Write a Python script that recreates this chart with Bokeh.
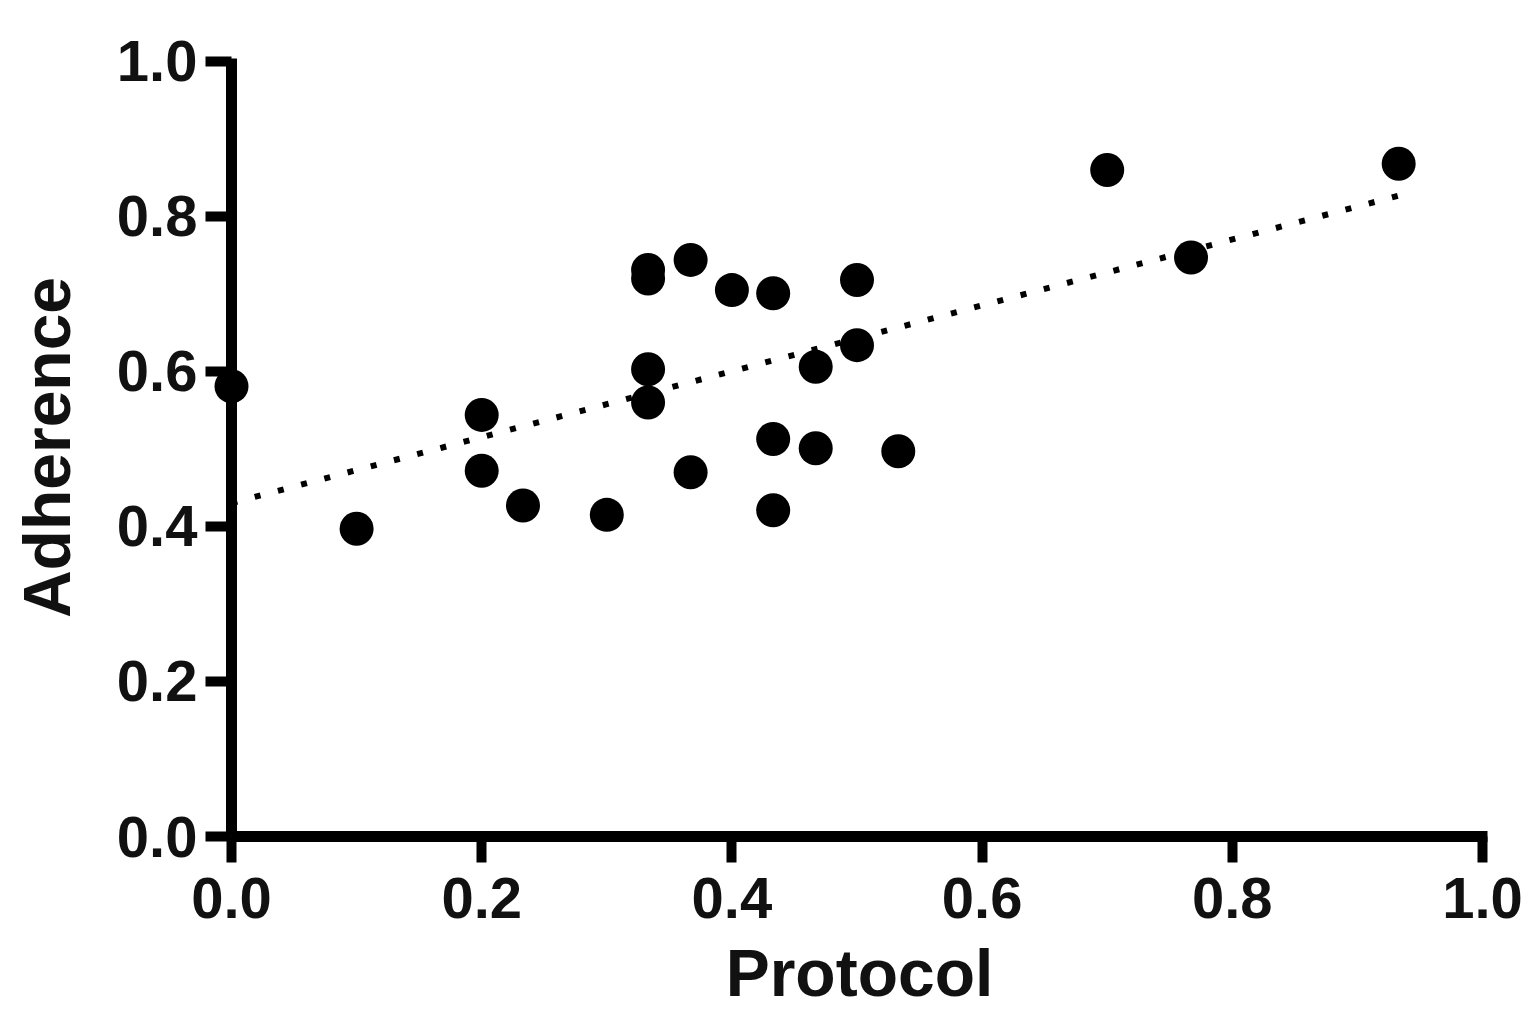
import numpy as np
from bokeh.plotting import figure
from bokeh.models import Range1d, FixedTicker
from bokeh.embed import file_html
from bokeh.resources import INLINE

# Data
protocol = [0.0, 0.1, 0.2, 0.2, 0.233, 0.3, 0.333, 0.333, 0.333, 0.333,
            0.367, 0.367, 0.4, 0.433, 0.433, 0.433, 0.467, 0.467, 0.5, 0.5,
            0.533, 0.7, 0.767, 0.933]
adherence = [0.581, 0.397, 0.544, 0.472, 0.427, 0.415, 0.731, 0.720, 0.603, 0.560,
             0.744, 0.470, 0.705, 0.701, 0.513, 0.421, 0.606, 0.501, 0.718, 0.634,
             0.497, 0.860, 0.747, 0.868]
tick_values = [0.0, 0.2, 0.4, 0.6, 0.8, 1.0]
tick_labels = {v: f"{v:.1f}" for v in tick_values}

# Layout (pixels)
W, H = 1530, 1012
left, right, top, bottom = 231, 43, 58, 175
px_per_x = 1251.0
px_per_y = 776.0
fw = W - left - right
fh = H - top - bottom
x_range = Range1d(0, fw / px_per_x)
y_range = Range1d(0, fh / px_per_y)

p = figure(width=W, height=H, x_range=x_range, y_range=y_range,
           output_backend="svg", toolbar_location=None,
           min_border_left=left, min_border_right=right,
           min_border_top=top, min_border_bottom=bottom)
p.outline_line_color = None
p.xgrid.visible = False
p.ygrid.visible = False
p.background_fill_color = "white"
p.border_fill_color = "white"

FONT = "Liberation Sans"

for ax in (p.xaxis[0], p.yaxis[0]):
    ax.ticker = FixedTicker(ticks=tick_values)
    ax.major_label_overrides = tick_labels
    ax.axis_line_width = 11
    ax.axis_line_color = "black"
    ax.major_tick_line_width = 10
    ax.major_tick_line_color = "black"
    ax.major_tick_in = 0
    ax.major_tick_out = 26
    ax.minor_tick_line_color = None
    ax.major_label_text_font = FONT
    ax.major_label_text_font_style = "bold"
    ax.major_label_text_font_size = "58px"
    ax.major_label_text_color = "#111111"
    ax.axis_label_text_font = FONT
    ax.axis_label_text_font_style = "bold"
    ax.axis_label_text_font_size = "66px"
    ax.axis_label_text_color = "#111111"

p.xaxis.axis_label = "Protocol"
p.yaxis.axis_label = "Adherence"
p.xaxis.major_label_standoff = 15
p.xaxis.axis_label_standoff = 15
p.yaxis.major_label_standoff = 8
p.yaxis.axis_label_standoff = 30

# Regression line fitted from the data
slope, intercept = np.polyfit(protocol, adherence, 1)
fit_x = [min(protocol), max(protocol)]
fit_y = [intercept + slope * v for v in fit_x]
p.line(fit_x, fit_y, line_color="black", line_width=6, line_dash="6 18",
       level="overlay")

p.scatter(protocol, adherence, size=34, fill_color="black", line_color=None,
          level="overlay")

open("out.html", "w").write(file_html(p, INLINE))
